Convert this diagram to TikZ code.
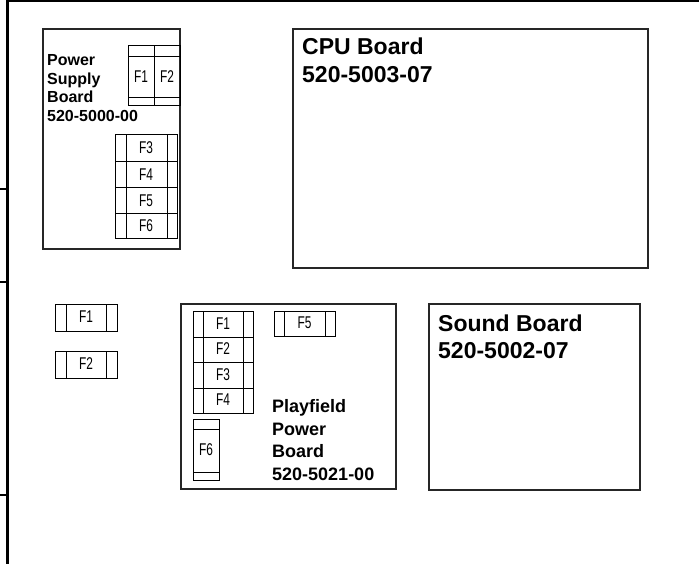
\documentclass[tikz,border=0pt]{standalone}
\usepackage{fontspec}
\setmainfont{Liberation Sans}
\newfontfamily\fusefont[FakeStretch=0.7]{Liberation Sans}
\tikzset{
  frameline/.style={line width=2.4pt, black},
  boardline/.style={line width=1.3pt, black!85},
  fuseline/.style={line width=1pt, black},
  fuselabel/.style={inner sep=0pt, font=\fusefont\fontsize{17}{19}\selectfont},
  bigtext/.style={inner sep=0pt, anchor=base west, font=\bfseries\fontsize{23}{27}\selectfont},
  midtext/.style={inner sep=0pt, anchor=base west, font=\bfseries\fontsize{18}{22}\selectfont},
  smalltext/.style={inner sep=0pt, anchor=base west, font=\bfseries\fontsize{16}{18}\selectfont},
}
% horizontal fuse: name, x1, y1, x2, y2, left cap, right cap, label
\newcommand\hfuse[8]{%
  \draw[fuseline] (#2,#3) rectangle (#4,#5);
  \draw[fuseline] (#2+#6,#3) -- (#2+#6,#5);
  \draw[fuseline] (#4-#7,#3) -- (#4-#7,#5);
  \node[fuselabel] (#1) at ({(#2+#4)/2},{(#3+#5)/2-0.5}) {#8};
}
% vertical fuse: name, x1, y1, x2, y2, top cap, bottom cap, label
\newcommand\vfuse[8]{%
  \draw[fuseline] (#2,#3) rectangle (#4,#5);
  \draw[fuseline] (#2,#3+#6) -- (#4,#3+#6);
  \draw[fuseline] (#2,#5-#7) -- (#4,#5-#7);
  \node[fuselabel] (#1) at ({(#2+#4)/2},{(#3+#6+#5-#7)/2-1}) {#8};
}
\begin{document}
\begin{tikzpicture}[x=1pt,y=-1pt]
\useasboundingbox (0,0) rectangle (699,564);
% frame
\coordinate (ftl) at (7.3,1.3);
\coordinate (ftr) at (699,1.3);
\coordinate (fbl) at (7.3,564);
\draw[frameline] (ftl) -- (ftr);
\draw[frameline] (7.3,0) -- (fbl);
\coordinate (t1a) at (0,189); \coordinate (t1b) at (7.3,189);
\coordinate (t2a) at (0,282); \coordinate (t2b) at (7.3,282);
\coordinate (t3a) at (0,495); \coordinate (t3b) at (7.3,495);
\draw[frameline] (t1a) -- (t1b);
\draw[frameline] (t2a) -- (t2b);
\draw[frameline] (t3a) -- (t3b);

% Power Supply Board
\draw[boardline] (43,29) rectangle (180,249);
\node[smalltext] (ps1) at (47,66) {Power};
\node[smalltext] (ps2) at (47,84.5) {Supply};
\node[smalltext] (ps3) at (47,103) {Board};
\node[smalltext] (ps4) at (47,121.5) {520-5000-00};
\vfuse{psf1}{128}{46}{154}{106}{11}{8}{F1}
\vfuse{psf2}{154}{46}{180}{106}{11}{8}{F2}
\hfuse{psf3}{115}{135}{177}{162}{11}{10}{F3}
\hfuse{psf4}{115}{162}{177}{188}{11}{10}{F4}
\hfuse{psf5}{115}{188}{177}{214}{11}{10}{F5}
\hfuse{psf6}{115}{214}{177}{239}{11}{10}{F6}

% CPU Board
\draw[boardline] (293,29) rectangle (648,268);
\node[bigtext] (cpu1) at (302,54.5) {CPU Board};
\node[bigtext] (cpu2) at (302,82.3) {520-5003-07};

% loose fuses
\hfuse{lf1}{55}{304}{117}{331}{11}{11}{F1}
\hfuse{lf2}{55}{351}{117}{378}{11}{11}{F2}

% Playfield Power Board
\draw[boardline] (181,304) rectangle (396,489);
\hfuse{pf1}{193}{311}{253}{337}{10}{10}{F1}
\hfuse{pf2}{193}{337}{253}{362}{10}{10}{F2}
\hfuse{pf3}{193}{362}{253}{388}{10}{10}{F3}
\hfuse{pf4}{193}{388}{253}{413}{10}{10}{F4}
\hfuse{pf5}{274}{311}{335}{336}{10}{10}{F5}
\vfuse{pf6}{193}{419}{219}{480}{10}{8}{F6}
\node[midtext] (pp1) at (272,412.7) {Playfield};
\node[midtext] (pp2) at (272,435) {Power};
\node[midtext] (pp3) at (272,457.5) {Board};
\node[midtext] (pp4) at (272,480) {520-5021-00};

% Sound Board
\draw[boardline] (429,304) rectangle (640,490);
\node[bigtext] (snd1) at (438,331) {Sound Board};
\node[bigtext] (snd2) at (438,358) {520-5002-07};
\end{tikzpicture}
\end{document}
